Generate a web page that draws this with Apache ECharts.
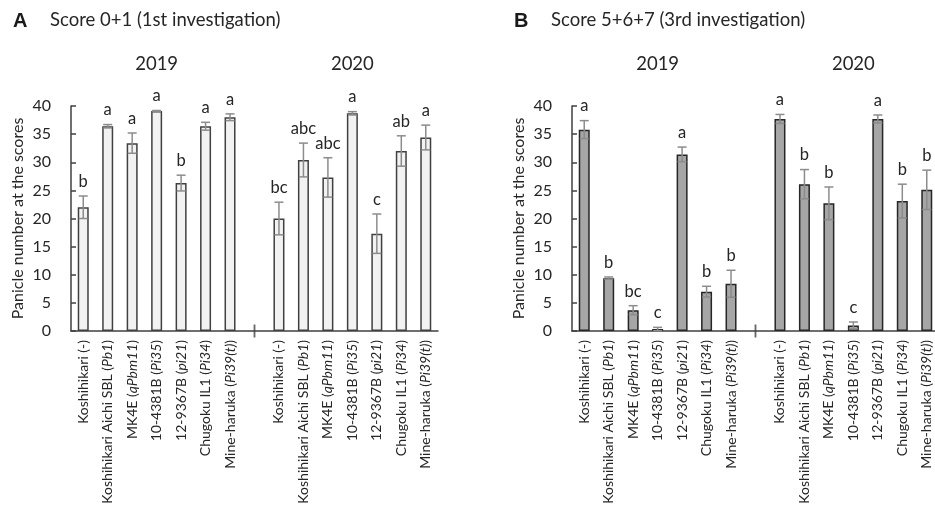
<!DOCTYPE html>
<html><head><meta charset="utf-8">
<script src="https://cdn.jsdelivr.net/npm/echarts@6/dist/echarts.min.js"></script>
<style>html,body{margin:0;padding:0;background:#fff}#c{width:935px;height:514px}</style>
</head><body><div id="c"></div>
<script>
// ---- data ----
const lines = ['Koshihikari', 'Koshihikari Aichi SBL', 'MK4E', '10-4381B', '12-9367B', 'Chugoku IL1', 'Mine-haruka'];
const genes = ['-', 'Pb1', 'qPbm11', 'Pi35', 'pi21', 'Pi34', 'Pi39(t)'];
const years = ['2019', '2020'];
const yTicks = [0, 5, 10, 15, 20, 25, 30, 35, 40];

const meanA2019 = [22.0, 36.4, 33.4, 39.1, 26.3, 36.4, 38.0];
const errA2019  = [2.0, 0.3, 1.8, 0.1, 1.4, 0.7, 0.6];
const letA2019  = ['b', 'a', 'a', 'a', 'b', 'a', 'a'];
const meanA2020 = [20.0, 30.4, 27.3, 38.7, 17.3, 32.0, 34.4];
const errA2020  = [2.9, 3.0, 3.5, 0.3, 3.5, 2.7, 2.2];
const letA2020  = ['bc', 'abc', 'abc', 'a', 'c', 'ab', 'a'];

const meanB2019 = [35.8, 9.4, 3.7, 0.35, 31.4, 7.0, 8.4];
const errB2019  = [1.6, 0.2, 0.8, 0.3, 1.3, 0.95, 2.4];
const letB2019  = ['a', 'b', 'bc', 'c', 'a', 'b', 'b'];
const meanB2020 = [37.7, 26.1, 22.7, 1.0, 37.7, 23.1, 25.1];
const errB2020  = [0.8, 2.6, 2.9, 0.6, 0.7, 3.0, 3.5];
const letB2020  = ['a', 'b', 'b', 'c', 'a', 'b', 'b'];

const panelTitles = ['Score 0+1 (1st investigation)', 'Score 5+6+7 (3rd investigation)'];
const panelLetters = ['A', 'B'];

// ---- build ----
const FONT = 'Lato, "Noto Sans", sans-serif';
const TXT = '#262626';
const n = lines.length;
const GAP = n; // blank category index
const cats = [];
for (let i = 0; i < 2 * n + 1; i++) cats.push(String(i));
function catLabel(idx) {
  if (idx === GAP) return '';
  const k = idx < GAP ? idx : idx - GAP - 1;
  const g = genes[k] === '-' ? '-' : '{i|' + genes[k] + '}';
  return lines[k] + ' (' + g + ')';
}
function joinData(a, b) { return a.concat(['-'], b); }

const panels = [
  {m19: meanA2019, e19: errA2019, l19: letA2019, m20: meanA2020, e20: errA2020, l20: letA2020,
   fill: '#f2f2f2', border: '#404040', left: 71},
  {m19: meanB2019, e19: errB2019, l19: letB2019, m20: meanB2020, e20: errB2020, l20: letB2020,
   fill: '#a6a6a6', border: '#262626', left: 572}
];

const grids = [], xAxes = [], yAxes = [], series = [], titles = [];
panels.forEach((p, gi) => {
  grids.push({left: p.left, top: 106, width: 367, height: 225, containLabel: false, outerBoundsMode: 'none'});
  xAxes.push({
    type: 'category', gridIndex: gi, data: cats, boundaryGap: true,
    axisLine: {show: true, lineStyle: {color: '#404040', width: 1.5}},
    axisTick: {show: false},
    axisLabel: {
      interval: 0, rotate: 90, margin: 9, fontFamily: FONT, fontSize: 14, color: TXT,
      formatter: (v, idx) => catLabel(idx),
      rich: {i: {fontStyle: 'italic', fontFamily: FONT, fontSize: 14, color: TXT}}
    },
    splitLine: {show: false}
  });
  yAxes.push({
    type: 'value', gridIndex: gi, min: yTicks[0], max: yTicks[yTicks.length - 1], interval: yTicks[1] - yTicks[0],
    name: 'Panicle number at the scores', nameLocation: 'middle', nameGap: 45,
    nameTextStyle: {fontFamily: FONT, fontSize: 16, color: TXT},
    axisLine: {show: true, lineStyle: {color: '#404040', width: 1.5}},
    axisTick: {show: true, inside: true, length: 5, lineStyle: {color: '#404040', width: 1.5}},
    axisLabel: {fontFamily: FONT, fontSize: 16, color: TXT, margin: 20},
    splitLine: {show: false}
  });
  const means = joinData(p.m19, p.m20);
  const errs = joinData(p.e19, p.e20);
  const lets = joinData(p.l19, p.l20);
  series.push({
    type: 'bar', xAxisIndex: gi, yAxisIndex: gi, data: means, barWidth: 11,
    itemStyle: {color: p.fill, borderColor: p.border, borderWidth: 1.5}, z: 2, animation: false
  });
  const ebData = [];
  means.forEach((m, i) => { if (m !== '-') ebData.push([i, m, errs[i]]); });
  series.push({
    type: 'custom', xAxisIndex: gi, yAxisIndex: gi, data: ebData, z: 3, animation: false,
    renderItem: (params, api) => {
      const i = api.value(0), m = api.value(1), e = api.value(2);
      const t = api.coord([i, m + e]), b = api.coord([i, m - e]);
      const st = {stroke: '#8c8c8c', lineWidth: 1.5};
      const h = 4.5;
      return {type: 'group', children: [
        {type: 'line', shape: {x1: t[0], y1: t[1], x2: b[0], y2: b[1]}, style: st},
        {type: 'line', shape: {x1: t[0] - h, y1: t[1], x2: t[0] + h, y2: t[1]}, style: st},
        {type: 'line', shape: {x1: b[0] - h, y1: b[1], x2: b[0] + h, y2: b[1]}, style: st}
      ]};
    }
  });
  const letData = [];
  means.forEach((m, i) => { if (m !== '-') letData.push([i, m + errs[i], lets[i]]); });
  series.push({
    type: 'custom', xAxisIndex: gi, yAxisIndex: gi, data: letData, z: 4, animation: false,
    renderItem: (params, api) => {
      const d = letData[params.dataIndex];
      const c = api.coord([d[0], d[1]]);
      return {type: 'text', x: c[0], y: c[1] - 6,
        style: {text: d[2], fontFamily: FONT, fontSize: 16.5, fill: TXT, align: 'center', verticalAlign: 'bottom'}};
    }
  });
  // year labels centred above each group
  const yrData = years.map((y, k) => [k * (n + 1) + (n - 1) / 2, yTicks[yTicks.length - 1]]);
  series.push({
    type: 'custom', xAxisIndex: gi, yAxisIndex: gi, data: yrData, z: 4, animation: false, clip: false,
    renderItem: (params, api) => {
      const c = api.coord([api.value(0), api.value(1)]);
      return {type: 'text', x: c[0], y: c[1] - 42,
        style: {text: years[params.dataIndex], fontFamily: FONT, fontSize: 18.5, fill: TXT, align: 'center', verticalAlign: 'middle'}};
    }
  });
  // separator tick between the year groups
  series.push({
    type: 'scatter', xAxisIndex: gi, yAxisIndex: gi, data: [[GAP, 0]], symbol: 'rect', symbolSize: [1.8, 13],
    itemStyle: {color: '#404040'}, z: 5, clip: false, animation: false, silent: true
  });
  titles.push({text: panelLetters[gi], left: p.left - 58, top: 11, padding: 0,
    textStyle: {fontFamily: 'Liberation Sans, Arial, sans-serif', fontWeight: 'bold', fontSize: 20, color: '#1a1a1a'}});
  titles.push({text: panelTitles[gi], left: p.left - 21, top: 11, padding: 0,
    textStyle: {fontFamily: FONT, fontWeight: 'normal', fontSize: 18.5, color: TXT}});
});

const chart = echarts.init(document.getElementById('c'), null, {renderer: 'canvas'});
chart.setOption({
  backgroundColor: '#ffffff', animation: false,
  title: titles, grid: grids, xAxis: xAxes, yAxis: yAxes, series: series
});
</script></body></html>
